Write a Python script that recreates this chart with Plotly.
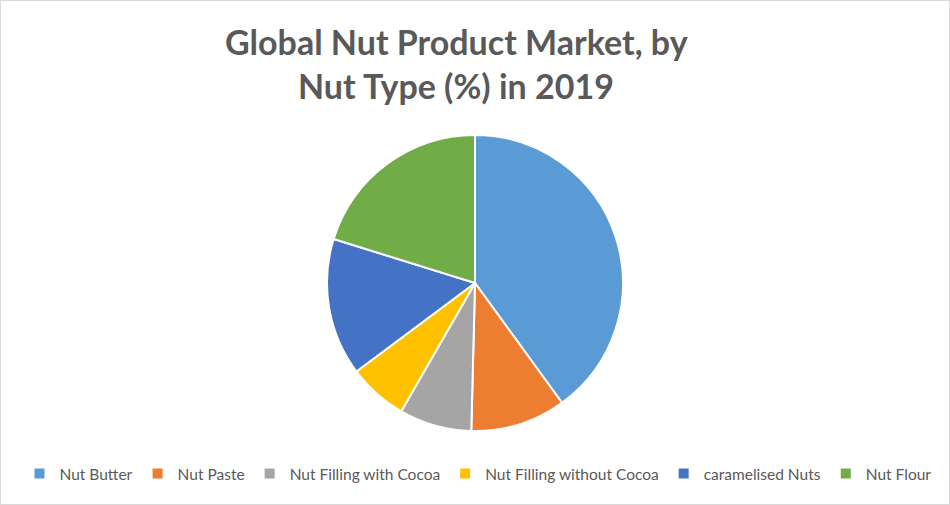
import plotly.graph_objects as go

labels = ["Nut Butter", "Nut Paste", "Nut Filling with Cocoa", "Nut Filling without Cocoa", "caramelised Nuts", "Nut Flour"]
values = [40.0, 10.4, 7.9, 6.5, 15.0, 20.2]
colors = ["#5B9BD5", "#ED7D31", "#A5A5A5", "#FFC000", "#4472C4", "#70AD47"]
title_lines = ["Global Nut Product Market, by", "Nut Type (%) in 2019"]

W, H = 950, 505
cx, cy, r = 475, 283, 148

fig = go.Figure(go.Pie(
    labels=labels, values=values, sort=False, direction="clockwise", rotation=0,
    marker=dict(colors=colors, line=dict(color="white", width=2)),
    textinfo="none", hoverinfo="label+percent",
    domain=dict(x=[(cx - r) / W, (cx + r) / W], y=[(H - cy - r) / H, (H - cy + r) / H]),
))

title_y = [42, 85]
fig.update_layout(
    width=W, height=H,
    margin=dict(l=0, r=0, t=0, b=0),
    paper_bgcolor="white",
    font=dict(family="Lato, sans-serif", color="#595959"),
    legend=dict(orientation="h", x=478 / W, xanchor="center", y=1 - 474 / H, yanchor="middle",
                font=dict(size=15.5, color="#595959"), itemclick=False),
    annotations=[dict(text="<b>%s</b>" % t, xref="paper", yref="paper", x=456 / W, y=1 - yy / H,
                      xanchor="center", yanchor="middle", showarrow=False,
                      font=dict(size=34, color="#595959", family="Lato, sans-serif"))
                 for t, yy in zip(title_lines, title_y)],
    shapes=[dict(type="rect", xref="paper", yref="paper", x0=0, y0=0, x1=1, y1=1,
                 line=dict(color="#D9D9D9", width=2))],
)

fig.write_html("out.html", config={"displayModeBar": False},
               post_script="document.body.style.margin='0';")
